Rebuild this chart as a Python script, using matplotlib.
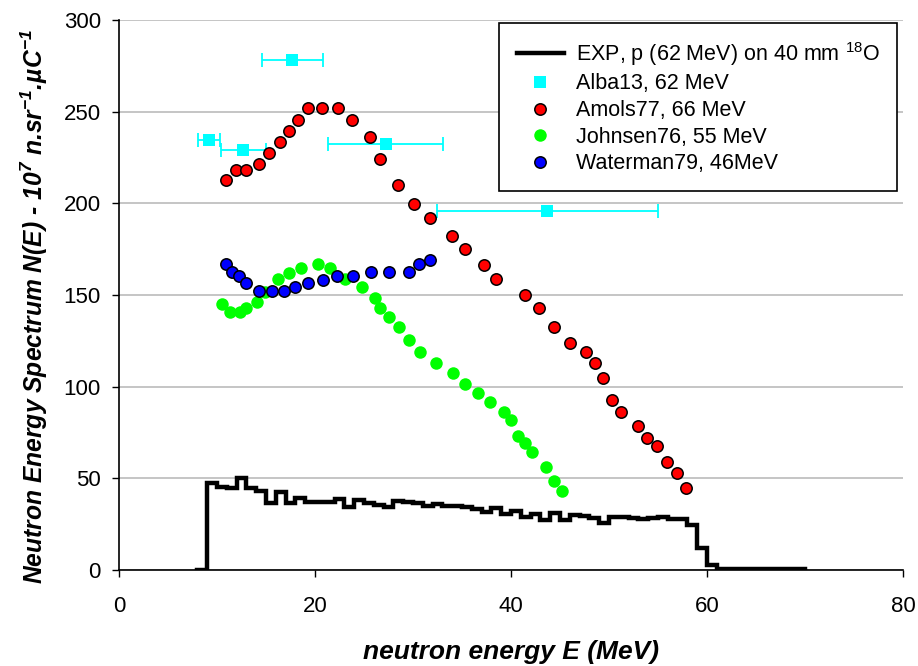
import matplotlib
matplotlib.use("Agg")
import matplotlib.pyplot as plt
import numpy as np

plt.rcParams['font.family'] = ['Liberation Sans', 'DejaVu Sans']
plt.rcParams['mathtext.fontset'] = 'custom'
plt.rcParams['mathtext.rm'] = 'Liberation Sans'
plt.rcParams['mathtext.it'] = 'Liberation Sans:italic'
plt.rcParams['mathtext.bf'] = 'Liberation Sans:bold:italic'

# Measured spectrum: 1 MeV bins from 8 to 70 MeV
exp_edges = list(range(8, 71))
exp_values = [0.0, 47.3, 45.1, 44.6, 50.0, 44.6, 43.3, 36.7, 42.7, 36.7,
              39.1, 37.1, 37.1, 37.1, 38.6, 34.5, 38.2, 36.7, 35.5, 34.5,
              37.8, 37.3, 36.4, 35.1, 35.8, 35.1, 35.0, 34.3, 33.5, 31.8,
              33.6, 30.5, 32.2, 29.1, 30.5, 27.3, 31.3, 27.3, 29.8, 29.5,
              28.2, 25.5, 29.1, 29.1, 28.2, 27.6, 28.2, 29.1, 28.0, 27.6,
              24.5, 11.8, 2.7, 0.3, 0.3, 0.3, 0.3, 0.3, 0.3, 0.3, 0.3, 0.3]

# Alba13, 62 MeV (with energy-bin half widths)
alba_e = [9.2, 12.7, 17.7, 27.2, 43.7]
alba_n = [234.6, 229.1, 278.2, 232.2, 195.9]
alba_de = [1.15, 2.3, 3.1, 5.85, 11.25]

# Amols77, 66 MeV
amols_e = [10.9, 11.9, 13.0, 14.3, 15.3, 16.4, 17.3, 18.3, 19.3, 20.7,
           22.3, 23.8, 25.6, 26.6, 28.5, 30.1, 31.7, 34.0, 35.3, 37.2,
           38.5, 41.4, 42.9, 44.4, 46.0, 47.7, 48.6, 49.4, 50.3, 51.2,
           53.0, 53.9, 54.9, 55.9, 56.9, 57.9]
amols_n = [212.7, 218.2, 218.2, 221.3, 227.3, 233.3, 239.5, 245.6, 252.0, 252.0,
           252.0, 245.6, 236.4, 224.4, 210.0, 199.7, 192.2, 182.2, 175.1, 166.6,
           158.6, 150.2, 142.9, 132.4, 123.7, 119.1, 113.1, 104.7, 92.9, 86.0,
           78.6, 71.8, 67.5, 59.1, 52.9, 44.7]

# Johnsen76, 55 MeV
johnsen_e = [10.5, 11.3, 12.3, 13.0, 14.1, 14.9, 16.2, 17.3, 18.6, 20.3,
             21.5, 23.1, 24.8, 26.1, 26.6, 27.6, 28.6, 29.6, 30.7, 32.3,
             34.1, 35.3, 36.6, 37.9, 39.3, 40.0, 40.7, 41.4, 42.1, 43.6,
             44.4, 45.2]
johnsen_n = [145.1, 140.9, 140.9, 143.1, 146.4, 151.8, 158.6, 162.2, 164.8, 166.8,
             164.8, 158.6, 154.2, 148.2, 142.7, 137.8, 132.4, 125.5, 119.1, 112.7,
             107.3, 101.6, 96.7, 91.8, 86.0, 81.8, 73.3, 69.1, 64.2, 56.0,
             48.6, 42.9]

# Waterman79, 46 MeV
waterman_e = [10.9, 11.5, 12.2, 13.0, 14.3, 15.6, 16.8, 18.0, 19.3, 20.8,
              22.2, 23.9, 25.7, 27.6, 29.6, 30.6, 31.7]
waterman_n = [166.9, 162.7, 160.6, 156.4, 152.2, 152.2, 152.2, 154.2, 156.4, 158.4,
              160.6, 160.6, 162.6, 162.6, 162.6, 166.8, 169.1]

x_ticks = [0, 20, 40, 60, 80]
y_ticks = [0, 50, 100, 150, 200, 250, 300]

fig = plt.figure(figsize=(9.18, 6.66), dpi=100)
ax = fig.add_axes([119 / 918, 1 - 570 / 666, (903 - 119) / 918, (570 - 20) / 666])

ax.yaxis.grid(True, color='#c0c0c0', linewidth=1.3)
ax.set_axisbelow(True)

step_x = exp_edges
step_y = exp_values + [exp_values[-1]]
ax.step(step_x, step_y, where='post', color='black', linewidth=3.2,
        solid_joinstyle='miter', label='EXP, p (62 MeV) on 40 mm $^{18}$O', zorder=3)

ax.errorbar(alba_e, alba_n, xerr=alba_de, fmt='none', ecolor='#00ffff',
            elinewidth=1.3, capsize=5, capthick=1.3, zorder=4)
ax.plot(alba_e, alba_n, 's', color='#00ffff', markersize=9, markeredgewidth=0,
        label='Alba13, 62 MeV', zorder=5)
ax.plot(amols_e, amols_n, 'o', color='#ff0000', markeredgecolor='black',
        markeredgewidth=1.1, markersize=8.2, label='Amols77, 66 MeV', zorder=5)
ax.plot(johnsen_e, johnsen_n, 'o', color='#00ff00', markeredgewidth=0,
        markersize=9, label='Johnsen76, 55 MeV', zorder=4)
ax.plot(waterman_e, waterman_n, 'o', color='#0000ff', markeredgecolor='black',
        markeredgewidth=1.1, markersize=8.2, label='Waterman79, 46MeV', zorder=5)

ax.set_xlim(0, 80)
ax.set_ylim(0, 300)
ax.set_xticks(x_ticks)
ax.set_yticks(y_ticks)
ax.tick_params(axis='both', direction='out', length=5, width=1, labelsize=16,
               colors='black')
ax.tick_params(axis='y', pad=8)
ax.tick_params(axis='x', pad=14)

for side in ['top', 'right']:
    ax.spines[side].set_visible(False)
for side in ['left', 'bottom']:
    ax.spines[side].set_linewidth(1.2)
    ax.spines[side].set_color('black')

ax.set_xlabel('neutron energy E (MeV)', fontsize=19, fontweight='bold',
              fontstyle='italic', labelpad=16)
ax.set_ylabel(r'Neutron Energy Spectrum N(E) - 10$^{\mathbf{7}}$ n.sr$^{\mathbf{-1}}$.µC$^{\mathbf{-1}}$',
              fontsize=17.7, fontweight='bold', fontstyle='italic')
ax.yaxis.set_label_coords(-0.088, 0.478)

leg = ax.legend(loc='upper right', bbox_to_anchor=(0.9925, 0.995), fontsize=15.5,
                frameon=True, fancybox=False, edgecolor='black', framealpha=1,
                handlelength=2.2, handletextpad=0.55, labelspacing=0.26,
                borderpad=0.8, borderaxespad=0)
leg.get_frame().set_linewidth(1.2)

fig.savefig('out.png', dpi=100)
